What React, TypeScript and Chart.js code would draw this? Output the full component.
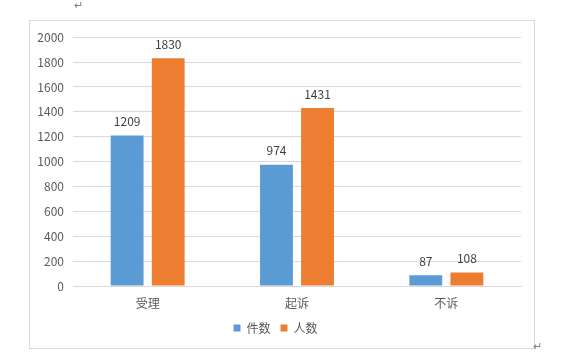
import React, { useEffect, useRef } from "react";
import { Chart, registerables } from "chart.js";

Chart.register(...registerables);

const categories = ["受理", "起诉", "不诉"];
const caseCounts = [1209, 974, 87];
const personCounts = [1830, 1431, 108];
const seriesNames = ["件数", "人数"];
const yTicks = [0, 200, 400, 600, 800, 1000, 1200, 1400, 1600, 1800, 2000];

const FONT = "'Noto Sans CJK SC', 'Noto Sans', sans-serif";

const valueLabels = {
  id: "valueLabels",
  afterDatasetsDraw(chart: any) {
    const ctx = chart.ctx;
    ctx.save();
    ctx.font = `12px ${FONT}`;
    ctx.fillStyle = "#404040";
    ctx.textAlign = "center";
    ctx.textBaseline = "bottom";
    chart.data.datasets.forEach((ds: any, i: number) => {
      const meta = chart.getDatasetMeta(i);
      meta.data.forEach((el: any, j: number) => {
        ctx.fillText(String(ds.data[j]), el.x, el.y - 8);
      });
    });
    ctx.restore();
  },
};

export default function App() {
  const ref = useRef<HTMLCanvasElement>(null);
  useEffect(() => {
    if (!ref.current) return;
    const chart = new Chart(ref.current, {
      type: "bar",
      data: {
        labels: categories,
        datasets: [
          { label: seriesNames[0], data: caseCounts, backgroundColor: "#5B9BD5" },
          { label: seriesNames[1], data: personCounts, backgroundColor: "#ED7D31" },
        ],
      },
      options: {
        animation: false,
        responsive: false,
        maintainAspectRatio: false,
        layout: { padding: { top: 10, right: 13, left: 0, bottom: 4 } },
        datasets: { bar: { categoryPercentage: 0.55, barPercentage: 0.8 } },
        plugins: {
          tooltip: { enabled: false },
          legend: {
            position: "bottom",
            labels: {
              boxWidth: 7,
              boxHeight: 7,
              padding: 10,
              color: "#595959",
              font: { family: FONT, size: 12 },
            },
          },
        },
        scales: {
          x: {
            grid: { display: false },
            border: { display: true, color: "#d9d9d9" },
            ticks: { color: "#595959", font: { family: FONT, size: 12 }, padding: 2 },
            afterFit: (s: any) => { s.height = 26; },
          },
          y: {
            min: 0,
            max: 2000,
            afterBuildTicks: (s: any) => { s.ticks = yTicks.map((v) => ({ value: v })); },
            grid: { color: "#d9d9d9", drawTicks: false },
            border: { display: false },
            ticks: {
              color: "#595959",
              font: { family: FONT, size: 12 },
              padding: 9,
              callback: (v: any) => String(v),
            },
            afterFit: (s: any) => { s.width = 43; },
          },
        },
      },
      plugins: [valueLabels],
    });
    return () => chart.destroy();
  }, []);

  return (
    <div style={{ position: "fixed", left: 0, top: 0, width: 565, height: 356, background: "#fff", fontFamily: FONT }}>
      <span style={{ position: "absolute", left: 74, top: -4, fontSize: 11, color: "#808080" }}>↵</span>
      <div style={{ position: "absolute", left: 29, top: 20, width: 504, height: 327, border: "1px solid #d9d9d9" }}>
        <canvas ref={ref} width={504} height={327} style={{ display: "block" }} />
      </div>
      <span style={{ position: "absolute", left: 533, top: 337, fontSize: 11, color: "#808080" }}>↵</span>
    </div>
  );
}
